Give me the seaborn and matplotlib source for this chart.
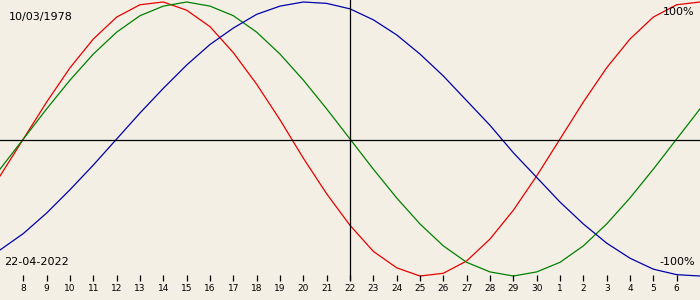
import numpy as np
import pandas as pd
import matplotlib
matplotlib.use("Agg")
import matplotlib.pyplot as plt
import seaborn as sns

# Day of month for each sampled point (07 Apr .. 07 May)
day_labels = [7, 8, 9, 10, 11, 12, 13, 14, 15, 16, 17, 18, 19, 20, 21, 22,
              23, 24, 25, 26, 27, 28, 29, 30, 1, 2, 3, 4, 5, 6, 7]

# Values (fraction of full amplitude)
physical = [-0.27, 0.00, 0.27, 0.52, 0.73, 0.89, 0.98, 1.00, 0.94, 0.82, 0.63,
            0.40, 0.14, -0.14, -0.40, -0.63, -0.82, -0.94, -1.00, -0.98, -0.89,
            -0.73, -0.52, -0.27, 0.00, 0.27, 0.52, 0.73, 0.89, 0.98, 1.00]
emotional = [-0.22, 0.00, 0.22, 0.43, 0.62, 0.78, 0.90, 0.97, 1.00, 0.97, 0.90,
             0.78, 0.62, 0.43, 0.22, 0.00, -0.22, -0.43, -0.62, -0.78, -0.90,
             -0.97, -1.00, -0.97, -0.90, -0.78, -0.62, -0.43, -0.22, 0.00, 0.22]
intellectual = [-0.81, -0.69, -0.54, -0.37, -0.19, 0.00, 0.19, 0.37, 0.54, 0.69,
                0.81, 0.91, 0.97, 1.00, 0.99, 0.95, 0.87, 0.76, 0.62, 0.46, 0.28,
                0.10, -0.10, -0.28, -0.46, -0.62, -0.76, -0.87, -0.95, -0.99, -1.00]

birth_text = "10/03/1978"
date_text = "22-04-2022"
top_text = "100%"
bottom_text = "-100%"

BG = "#F3EFE4"
colors = {"physical": "#E80000", "emotional": "#008000", "intellectual": "#0000AA"}

n = len(day_labels)
idx = np.arange(n)
df = pd.concat([
    pd.DataFrame({"i": idx, "v": physical, "s": "physical"}),
    pd.DataFrame({"i": idx, "v": emotional, "s": "emotional"}),
    pd.DataFrame({"i": idx, "v": intellectual, "s": "intellectual"}),
])

fig = plt.figure(figsize=(7, 3), dpi=100, facecolor=BG)
ax = fig.add_axes([0, 0, 1, 1])
ax.set_facecolor(BG)

sns.lineplot(data=df, x="i", y="v", hue="s", palette=colors, ax=ax,
             legend=False, linewidth=0.9, estimator=None, sort=False)

ax.set_xlim(0, n - 1)
ax.set_ylim(-1.175, 1.0146)
ax.axis("off")

# axis cross
ax.axhline(-0.005, color="black", lw=0.9)
center = (n - 1) / 2
ax.plot([center, center], [1.05, -1.03], color="black", lw=0.9,
        solid_capstyle="butt", clip_on=True)

# day ticks and labels
tr = matplotlib.transforms.blended_transform_factory(ax.transData, ax.transAxes)
for i in range(1, n - 1):
    ax.plot([i, i], [0.063, 0.083], color="black", lw=0.9, transform=tr,
            solid_capstyle="butt")
    ax.text(i, 0.038, str(day_labels[i]), transform=tr, ha="center",
            va="center", fontsize=6.5, family="DejaVu Sans")

fs = 8
ax.text(9 / 700, 1 - 17 / 300, birth_text, transform=ax.transAxes,
        ha="left", va="center", fontsize=fs)
ax.text(4 / 700, 1 - 262 / 300, date_text, transform=ax.transAxes,
        ha="left", va="center", fontsize=fs)
ax.text(694 / 700, 1 - 12 / 300, top_text, transform=ax.transAxes,
        ha="right", va="center", fontsize=fs)
ax.text(695 / 700, 1 - 262 / 300, bottom_text, transform=ax.transAxes,
        ha="right", va="center", fontsize=fs)

fig.savefig("out.png", dpi=100, facecolor=BG)
